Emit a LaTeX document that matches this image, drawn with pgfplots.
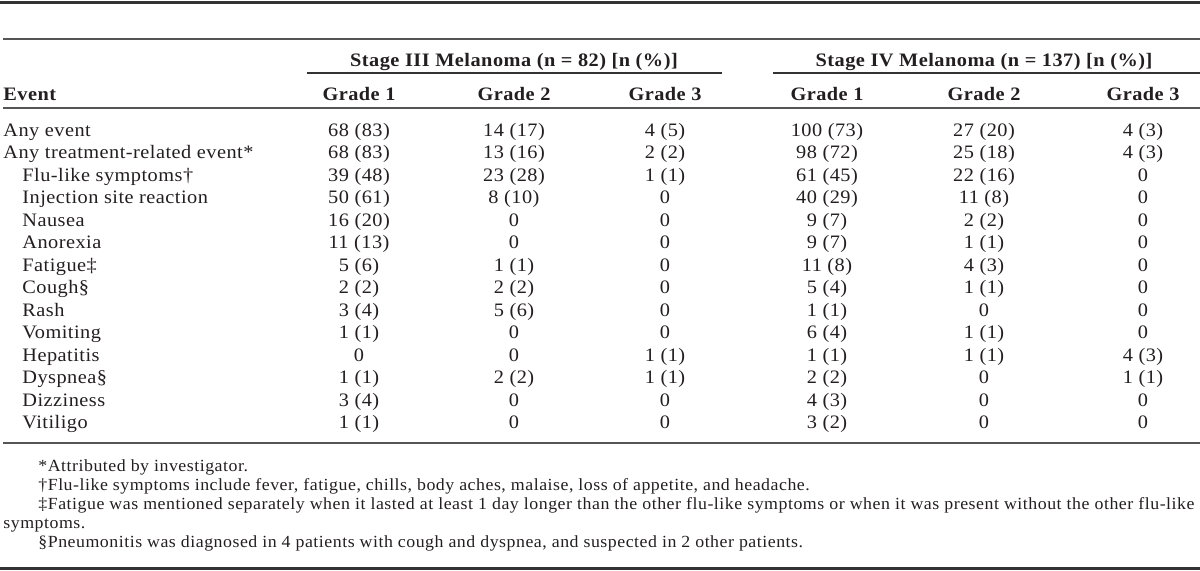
\documentclass[border=0pt]{standalone}
\usepackage{fontspec}
\setmainfont{Liberation Serif}[FakeStretch=1.07,LetterSpace=2.5]
\newfontfamily\fnfont{Liberation Serif}[FakeStretch=1.05,LetterSpace=3]
\usepackage{pgfplots}
\usepackage{pgfplotstable}
\pgfplotsset{compat=1.18}
\definecolor{txt}{HTML}{231F20}
\definecolor{rulec}{HTML}{333333}
\definecolor{rulel}{HTML}{555555}
\newcommand\fs{\fontsize{9.5}{10}\selectfont}
\newcommand\fn{\fnfont\fontsize{8.5}{10}\selectfont}

\pgfplotstableread[col sep=semicolon,row sep=\\]{
y;ind;label;g1;g2;g3;g4;g5;g6\\
136;3;Any event;68 (83);14 (17);4 (5);100 (73);27 (20);4 (3)\\
158.5;3;Any treatment-related event*;68 (83);13 (16);2 (2);98 (72);25 (18);4 (3)\\
181;22;Flu-like symptoms†;39 (48);23 (28);1 (1);61 (45);22 (16);0\\
203.5;22;Injection site reaction;50 (61);8 (10);0;40 (29);11 (8);0\\
226;22;Nausea;16 (20);0;0;9 (7);2 (2);0\\
248.5;22;Anorexia;11 (13);0;0;9 (7);1 (1);0\\
271;22;Fatigue‡;5 (6);1 (1);0;11 (8);4 (3);0\\
293.5;22;Cough§;2 (2);2 (2);0;5 (4);1 (1);0\\
316;22;Rash;3 (4);5 (6);0;1 (1);0;0\\
338.5;22;Vomiting;1 (1);0;0;6 (4);1 (1);0\\
361;22;Hepatitis;0;0;1 (1);1 (1);1 (1);4 (3)\\
383.5;22;Dyspnea§;1 (1);2 (2);1 (1);2 (2);0;1 (1)\\
406;22;Dizziness;3 (4);0;0;4 (3);0;0\\
428.5;22;Vitiligo;1 (1);0;0;3 (2);0;0\\
}\events

\pgfplotsset{
  cell/.style={draw=none, mark=none, nodes near coords, point meta=explicit symbolic,
    nodes near coords align={anchor=base},
    every node near coord/.append style={anchor=base, inner sep=0pt, font=\fs, text=txt}},
  lcell/.style={draw=none, mark=none, nodes near coords, point meta=explicit symbolic,
    nodes near coords align={anchor=base west},
    every node near coord/.append style={anchor=base west, inner sep=0pt, font=\fs, text=txt}},
}

\begin{document}
\begin{tikzpicture}
\begin{axis}[width=600pt, height=285pt, scale only axis,
  xmin=0, xmax=1200, ymin=0, ymax=570, y dir=reverse,
  hide axis, clip=false, enlargelimits=false]
% rules
\addplot[rulec, line width=1.5pt, mark=none] coordinates {(0,2) (1200,2)};
\addplot[rulel, line width=1pt, mark=none] coordinates {(3,39) (1200,39)};
\addplot[rulec, line width=0.6pt, mark=none] coordinates {(307,73) (722,73)};
\addplot[rulec, line width=0.6pt, mark=none] coordinates {(773,73) (1200,73)};
\addplot[rulel, line width=1pt, mark=none] coordinates {(3,108) (1200,108)};
\addplot[rulel, line width=1pt, mark=none] coordinates {(3,443) (1200,443)};
\addplot[rulec, line width=1.5pt, mark=none] coordinates {(0,568) (1200,568)};
% headers
\node[anchor=base, inner sep=0pt, font=\fs\bfseries, text=txt] at (axis cs:514,66) {Stage III Melanoma (n = 82) [n (\%)]};
\node[anchor=base, inner sep=0pt, font=\fs\bfseries, text=txt] at (axis cs:984,66) {Stage IV Melanoma (n = 137) [n (\%)]};
\node[anchor=base west, inner sep=0pt, font=\fs\bfseries, text=txt] at (axis cs:3,100.5) {Event};
\node[anchor=base, inner sep=0pt, font=\fs\bfseries, text=txt] at (axis cs:359,100.5) {Grade 1};
\node[anchor=base, inner sep=0pt, font=\fs\bfseries, text=txt] at (axis cs:514,100.5) {Grade 2};
\node[anchor=base, inner sep=0pt, font=\fs\bfseries, text=txt] at (axis cs:665,100.5) {Grade 3};
\node[anchor=base, inner sep=0pt, font=\fs\bfseries, text=txt] at (axis cs:827,100.5) {Grade 1};
\node[anchor=base, inner sep=0pt, font=\fs\bfseries, text=txt] at (axis cs:984,100.5) {Grade 2};
\node[anchor=base, inner sep=0pt, font=\fs\bfseries, text=txt] at (axis cs:1143,100.5) {Grade 3};
% body
\addplot[lcell] table[x=ind, y=y, meta=label] {\events};
\addplot[cell] table[x expr=359, y=y, meta=g1] {\events};
\addplot[cell] table[x expr=514, y=y, meta=g2] {\events};
\addplot[cell] table[x expr=665, y=y, meta=g3] {\events};
\addplot[cell] table[x expr=827, y=y, meta=g4] {\events};
\addplot[cell] table[x expr=984, y=y, meta=g5] {\events};
\addplot[cell] table[x expr=1143, y=y, meta=g6] {\events};
% footnotes
\node[anchor=base west, inner sep=0pt, font=\fn, text=txt] at (axis cs:38,471) {*Attributed by investigator.};
\node[anchor=base west, inner sep=0pt, font=\fn, text=txt] at (axis cs:38,490) {†Flu-like symptoms include fever, fatigue, chills, body aches, malaise, loss of appetite, and headache.};
\node[anchor=base west, inner sep=0pt, font=\fn, text=txt] at (axis cs:38,509) {\makebox[578pt][s]{‡Fatigue was mentioned separately when it lasted at least 1 day longer than the other flu-like symptoms or when it was present without the other flu-like}};
\node[anchor=base west, inner sep=0pt, font=\fn, text=txt] at (axis cs:3,528) {symptoms.};
\node[anchor=base west, inner sep=0pt, font=\fn, text=txt] at (axis cs:38,547) {§Pneumonitis was diagnosed in 4 patients with cough and dyspnea, and suspected in 2 other patients.};
\end{axis}
\pgfresetboundingbox
\path (0,0) rectangle (600pt,285pt);
\end{tikzpicture}
\end{document}
